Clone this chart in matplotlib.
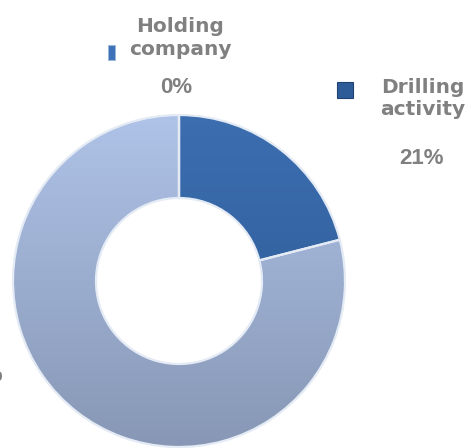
import numpy as np
import matplotlib
matplotlib.use("Agg")
from matplotlib import pyplot as plt
from matplotlib.patches import Rectangle

# data
names = ["Holding\ncompany", "Drilling\nactivity", "Other\nactivities"]
shares = [0, 21, 79]
pct_labels = ["0%", "21%", "79%"]

# gradient colours per slice (top, bottom)
grads = [("#5b8fd0", "#2d5f9e"), ("#3c6eb0", "#2b5790"), ("#afc3e8", "#8797b5")]

W, H = 471, 448
fig = plt.figure(figsize=(W / 100, H / 100), dpi=100)
ax = fig.add_axes([0, 0, 1, 1])

cx, cy, R, ring = 179, H - 281, 166, 83
wedges, _ = ax.pie(shares, radius=R, center=(cx, cy), startangle=90, counterclock=False,
                   colors=[g[1] for g in grads],
                   wedgeprops=dict(width=ring, edgecolor="#e4ebf5", linewidth=1.6))

# vertical gradient inside each slice
for w, (c_top, c_bot) in zip(wedges, grads):
    if w.theta2 - w.theta1 <= 0:
        continue
    cmap = matplotlib.colors.LinearSegmentedColormap.from_list("g", [c_bot, c_top])
    grad = np.linspace(0, 1, 256).reshape(-1, 1)
    im = ax.imshow(grad, cmap=cmap, extent=(cx - R, cx + R, cy - R, cy + R),
                   origin="lower", aspect="auto", zorder=w.get_zorder() - 0.01)
    im.set_clip_path(w)
    w.set_facecolor("none")

ax.set_xlim(0, W)
ax.set_ylim(0, H)
ax.axis("off")

grey = "#808080"
lab_font = dict(family="DejaVu Sans", fontweight="bold", color=grey, fontsize=14.5)
pct_font = dict(family="Liberation Sans", fontweight="bold", color=grey, fontsize=16)

# Holding company
ax.text(180, H - 38, names[0], ha="center", va="center", linespacing=1.3, **lab_font)
ax.text(176, H - 87, pct_labels[0], ha="center", va="center", **pct_font)
ax.add_patch(Rectangle((108, H - 60), 7, 15, facecolor="#3d72b8", edgecolor="#9cb6dc", lw=0.6))

# Drilling activity
ax.text(423, H - 98, names[1], ha="center", va="center", linespacing=1.2, **lab_font)
ax.text(421, H - 158, pct_labels[1], ha="center", va="center", **pct_font)
ax.add_patch(Rectangle((337, H - 98), 16, 16, facecolor="#2d5c98", edgecolor="#1f4474", lw=0.8))

# Other slice label: lies outside the visible area, only a sliver shows
ax.text(3, H - 375, pct_labels[2], ha="right", va="center", **pct_font)

fig.savefig("out.png", dpi=100)
